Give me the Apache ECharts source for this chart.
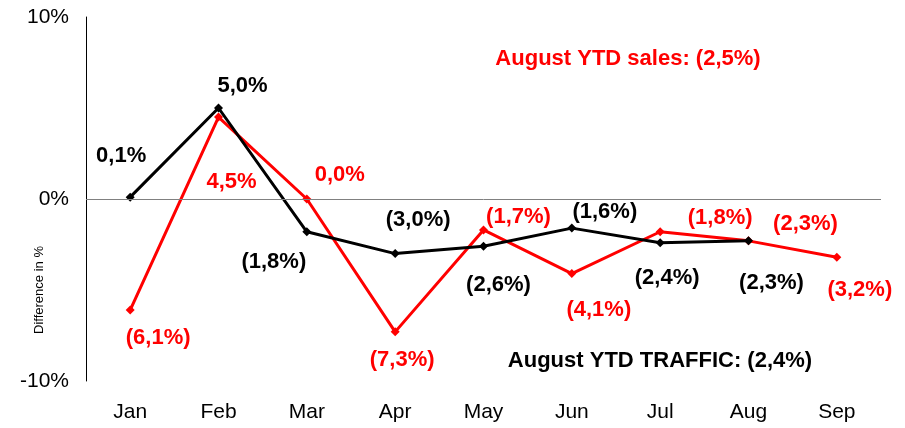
<!DOCTYPE html>
<html>
<head>
<meta charset="utf-8">
<script src="https://cdn.jsdelivr.net/npm/echarts@6/dist/echarts.min.js"></script>
<style>
html,body{margin:0;padding:0;background:#fff;}
#chart{width:905px;height:428px;}
</style>
</head>
<body>
<div id="chart"></div>
<script>
var categories = ['Jan','Feb','Mar','Apr','May','Jun','Jul','Aug','Sep'];
var traffic = [0.1, 5.0, -1.8, -3.0, -2.6, -1.6, -2.4, -2.3, null];
var sales = [-6.1, 4.5, 0.0, -7.3, -1.7, -4.1, -1.8, -2.3, -3.2];
var yTicks = [-10, 0, 10];
var salesNote = 'August YTD sales: (2,5%)';
var trafficNote = 'August YTD TRAFFIC: (2,4%)';

// label offsets (pixels) relative to each point
var trafficOffsets = [[-9,-41],[24,-22],[-33,30],[23,-34],[15,39],[33,-16],[7,35],[23,42],[0,0]];
var salesOffsets = [[28,28],[13,65],[33,-24],[7,28],[35,-13],[27,36],[60,-14],[57,-17],[23,33]];

function fmt(v){
  var s = Math.abs(v).toFixed(1).replace('.', ',') + '%';
  return v < 0 ? '(' + s + ')' : s;
}
function build(values, offsets){
  return values.map(function(v, i){
    if (v === null) return null;
    return {value: v, label: {offset: offsets[i]}};
  });
}
var FF = 'Liberation Sans, Arial, sans-serif';
var labelFont = {fontFamily: FF, fontWeight:'bold', fontSize:22};

var chart = echarts.init(document.getElementById('chart'), null, {renderer:'canvas'});
chart.setOption({
  animation: false,
  backgroundColor: '#fff',
  grid: {left: 86, right: 24, top: 17, bottom: 47},
  xAxis: {
    type: 'category',
    data: categories,
    boundaryGap: true,
    axisLine: {show: false},
    axisTick: {show: false},
    axisLabel: {color:'#000', fontFamily: FF, fontSize:21, margin:21}
  },
  yAxis: {
    type: 'value',
    min: yTicks[0], max: yTicks[2], interval: 10,
    axisLine: {show: true, onZero: false, lineStyle: {color:'#000', width:1}},
    axisTick: {show: false},
    splitLine: {show: false},
    axisLabel: {color:'#000', fontFamily: FF, fontSize:21, margin:17,
      formatter: function(v){ return v + '%'; }}
  },
  graphic: [
    {type:'text', x:39, y:290, rotation: Math.PI/2,
      style:{text:'Difference in %', fill:'#000', font:'13px ' + FF, textAlign:'center', textVerticalAlign:'middle'}},
    {type:'text', x:628, y:59, style:{text: salesNote, fill:'#ff0000', font:'bold 22px ' + FF, textAlign:'center', textVerticalAlign:'middle'}},
    {type:'text', x:660, y:361, style:{text: trafficNote, fill:'#000', font:'bold 22px ' + FF, textAlign:'center', textVerticalAlign:'middle'}}
  ],
  series: [
    {
      name: 'zero', type: 'line', data: [], silent: true,
      markLine: {symbol:'none', silent:true, label:{show:false},
        lineStyle:{color:'#808080', width:1, type:'solid'},
        data:[{yAxis:0}]}
    },
    {
      name: 'Sales', type: 'line',
      data: build(sales, salesOffsets),
      symbol: 'diamond', symbolSize: 9,
      lineStyle: {color:'#ff0000', width:3},
      itemStyle: {color:'#ff0000'},
      label: Object.assign({show:true, position:'inside', color:'#ff0000', align:'center', verticalAlign:'middle',
        formatter: function(p){ return fmt(p.value); }}, labelFont),
      z: 3
    },
    {
      name: 'Traffic', type: 'line',
      data: build(traffic, trafficOffsets),
      symbol: 'diamond', symbolSize: 9,
      lineStyle: {color:'#000', width:3},
      itemStyle: {color:'#000'},
      label: Object.assign({show:true, position:'inside', color:'#000', align:'center', verticalAlign:'middle',
        formatter: function(p){ return fmt(p.value); }}, labelFont),
      z: 4
    }
  ]
});
</script>
</body>
</html>
